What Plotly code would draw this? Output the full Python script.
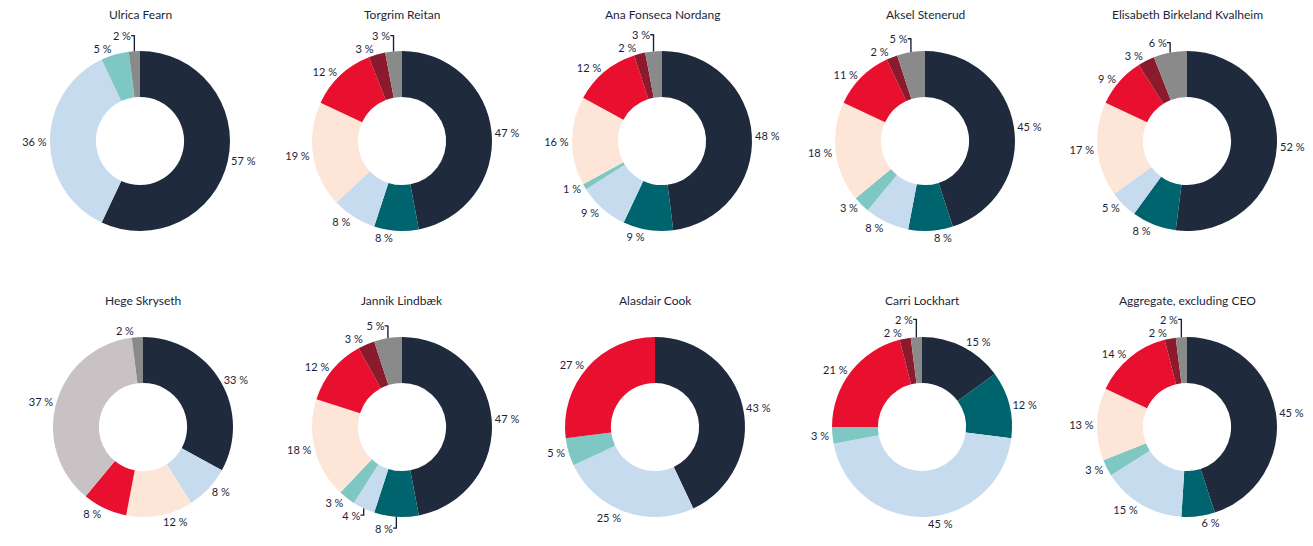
import plotly.graph_objects as go

categories = ["Navy", "Teal", "Light blue", "Aqua", "Peach", "Red", "Dark red", "Silver", "Grey"]
colors = ["#1f2b3d", "#00646e", "#c7dbee", "#7fc7c3", "#fde6d8", "#e8102e", "#8b1a2c", "#c9c2c5", "#8b8a8b"]

names = ["Ulrica Fearn", "Torgrim Reitan", "Ana Fonseca Nordang", "Aksel Stenerud",
         "Elisabeth Birkeland Kvalheim", "Hege Skryseth", "Jannik Lindbæk",
         "Alasdair Cook", "Carri Lockhart", "Aggregate, excluding CEO"]

ulrica    = [57, 0, 36, 5, 0, 0, 0, 0, 2]
torgrim   = [47, 8, 8, 0, 19, 12, 3, 0, 3]
ana       = [48, 9, 9, 1, 16, 12, 2, 0, 3]
aksel     = [45, 8, 8, 3, 18, 11, 2, 0, 5]
elisabeth = [52, 8, 5, 0, 17, 9, 3, 0, 6]
hege      = [33, 0, 8, 0, 12, 8, 0, 37, 2]
jannik    = [47, 8, 4, 3, 18, 12, 3, 0, 5]
alasdair  = [43, 0, 25, 5, 0, 27, 0, 0, 0]
carri     = [15, 12, 45, 3, 0, 21, 2, 0, 2]
aggregate = [45, 6, 15, 3, 13, 14, 2, 0, 2]

series = [ulrica, torgrim, ana, aksel, elisabeth, hege, jannik, alasdair, carri, aggregate]

OFF = 8  # page body margin
W, H = 1313 - OFF, 546 - OFF
centers_x = [140, 402, 662, 925, 1187, 143, 402, 655, 922, 1187]
centers_y = [141, 141, 141, 141, 141, 427, 427, 427, 427, 427]
radius = 90
title_y = [14, 14, 14, 14, 14, 300, 300, 300, 300, 300]

fig = go.Figure()
for i, (name, vals) in enumerate(zip(names, series)):
    labs = [c for c, v in zip(categories, vals) if v > 0]
    vs = [v for v in vals if v > 0]
    cols = [col for col, v in zip(colors, vals) if v > 0]
    cx, cy = centers_x[i] - OFF, centers_y[i] - OFF
    fig.add_trace(go.Pie(
        labels=labs, values=vs, marker=dict(colors=cols, line=dict(width=0)),
        hole=0.49, sort=False, direction="clockwise", rotation=0,
        textposition="outside", texttemplate="%{value} %",
        textfont=dict(size=11, color="#1b1f3a", family="Lato"),
        domain=dict(x=[(cx - radius) / W, (cx + radius) / W],
                    y=[(H - cy - radius) / H, (H - cy + radius) / H]),
        showlegend=False, hoverinfo="label+value", name=name,
    ))
    fig.add_annotation(text=name, x=cx / W, y=1 - (title_y[i] - OFF) / H, xref="paper", yref="paper",
                       showarrow=False, xanchor="center", yanchor="middle",
                       font=dict(size=12, color="#1b1f3a", family="Lato"))

fig.update_layout(width=W, height=H, margin=dict(l=0, r=0, t=0, b=0),
                  paper_bgcolor="white", plot_bgcolor="white")
fig.write_html("out.html")
